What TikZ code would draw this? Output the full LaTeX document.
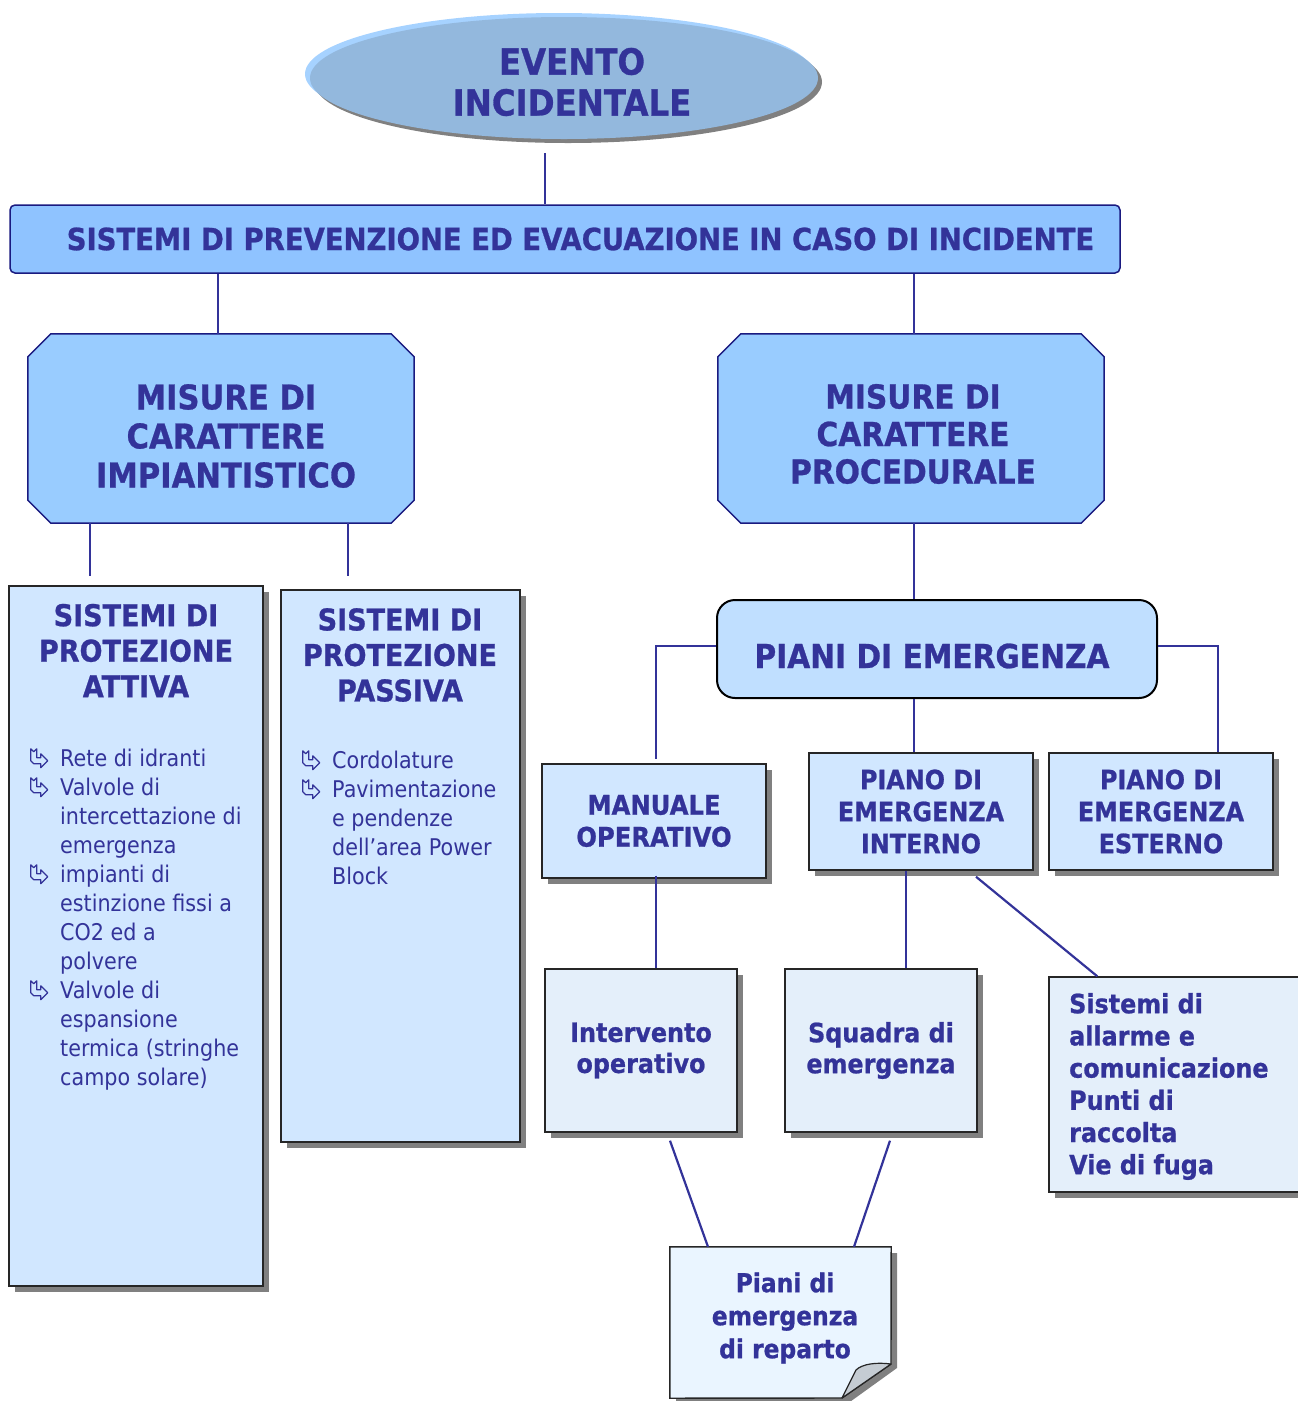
\documentclass[tikz,border=0pt]{standalone}
\usepackage{fontspec}
\setmainfont{DejaVu Sans}[FakeStretch=0.9, BoldFeatures={FakeStretch=0.9,FakeBold=0.8}]
\usetikzlibrary{shapes.geometric,shadows}
\definecolor{txt}{HTML}{333399}
\definecolor{navy}{HTML}{1A1A80}
\definecolor{evfill}{HTML}{93B8DD}
\definecolor{evrim}{HTML}{A6D2FF}
\definecolor{shg}{HTML}{808080}
\definecolor{banfill}{HTML}{8FC3FF}
\definecolor{octfill}{HTML}{99CCFF}
\definecolor{sysfill}{HTML}{D1E7FF}
\definecolor{pefill}{HTML}{C0DFFF}
\definecolor{lowfill}{HTML}{E4EFFA}
\definecolor{repfill}{HTML}{EAF5FF}
\definecolor{foldfill}{HTML}{C5CCD3}
\newcommand\fsz[2]{\fontsize{#1}{#2}\selectfont\bfseries}
\newcommand\lbul{\makebox[30pt][l]{\tikz[x=1pt,y=1pt,baseline=0pt]\draw[draw=txt,line width=1.1pt,line join=round] (0,18)--(3,15)--(6,18)--(6,9)--(10,9)--(10,13)--(17,6)--(10,-1)--(10,3)--(3,3)--(0,6)--cycle;}}
\newcommand\lind{\makebox[30pt]{}}
\begin{document}
\begin{tikzpicture}[x=1pt,y=-1pt,
  every node/.style={text=txt, inner sep=0pt},
  conn/.style={draw=txt, line width=2.2pt},
  bshadow/.style={drop shadow={shadow xshift=6pt,shadow yshift=-6pt,fill=shg,opacity=1}},
  box/.style={draw=black!85, line width=1.4pt, bshadow},
  oct/.style={draw=navy, line width=1.5pt, fill=octfill},
  lst/.style={font=\fontsize{23}{29}\selectfont, align=left, anchor=north west}]
\clip (0,0) rectangle (1298,1401);

% top ellipse
\node[ellipse, minimum width=508pt, minimum height=122pt, fill=evfill,
  drop shadow={shadow xshift=-5pt,shadow yshift=4pt,fill=evrim,opacity=1},
  drop shadow={shadow xshift=4pt,shadow yshift=-4pt,fill=shg,opacity=1}] (ev) at (564,78) {};
\node[font=\fsz{36}{41}, align=center] (evt) at (572,82) {EVENTO\\INCIDENTALE};

% banner
\node[draw=navy, line width=1.5pt, fill=banfill, rounded corners=5pt, minimum width=1110pt, minimum height=68pt, font=\fsz{30.5}{36}] (ban) at (565,239) {\hspace*{31pt}SISTEMI DI PREVENZIONE ED EVACUAZIONE IN CASO DI INCIDENTE};
\coordinate (evc) at ([xshift=-19pt,yshift=-14pt]ev.south);
\draw[conn] (evc) -- (evc |- ban.north);

% octagons
\node[minimum width=386pt, minimum height=189pt] (misL) at (221,428.5) {};
\node[minimum width=386pt, minimum height=189pt] (misR) at (911,428.5) {};
\foreach \m in {misL,misR}{
\draw[oct] ([xshift=23pt]\m.north west) -- ([xshift=-23pt]\m.north east) -- ([yshift=-23pt]\m.north east) -- ([yshift=23pt]\m.south east) -- ([xshift=-23pt]\m.south east) -- ([xshift=23pt]\m.south west) -- ([yshift=23pt]\m.south west) -- ([yshift=-23pt]\m.north west) -- cycle;}
\node[font=\fsz{34}{39}, align=center] (misLt) at (226,436) {MISURE DI\\CARATTERE\\IMPIANTISTICO};
\node[font=\fsz{33}{37.5}, align=center] (misRt) at (913,434) {MISURE DI\\CARATTERE\\PROCEDURALE};
\draw[conn] ([xshift=-3pt]misL.north |- ban.south) -- ([xshift=-3pt]misL.north);
\draw[conn] ([xshift=3pt]misR.north |- ban.south) -- ([xshift=3pt]misR.north);

% sistemi boxes
\node[box, fill=sysfill, minimum width=254pt, minimum height=700pt] (att) at (136,936) {};
\node[box, fill=sysfill, minimum width=239pt, minimum height=552pt] (pas) at (400.5,866) {};
\node[font=\fsz{30}{35.5}, align=center] (attt) at (136,650.5) {SISTEMI DI\\PROTEZIONE\\ATTIVA};
\node[font=\fsz{30}{35.5}, align=center] (past) at (400,655) {SISTEMI DI\\PROTEZIONE\\PASSIVA};
\node[lst] (attl) at (30,748) {\lbul Rete di idranti\\
\lbul Valvole di\\
\lind intercettazione di\\
\lind emergenza\\
\lbul impianti di\\
\lind estinzione fissi a\\
\lind CO2 ed a\\
\lind polvere\\
\lbul Valvole di\\
\lind espansione\\
\lind termica (stringhe\\
\lind campo solare)};
\node[lst] (pasl) at (302,750) {\lbul Cordolature\\
\lbul Pavimentazione\\
\lind e pendenze\\
\lind dell’area Power\\
\lind Block};
\coordinate (la) at ([xshift=-131pt]misL.south);
\coordinate (lb) at ([xshift=127pt]misL.south);
\draw[conn, shorten >=9pt] (la) -- (la |- att.north);
\draw[conn, shorten >=13pt] (lb) -- (lb |- pas.north);

% piani di emergenza
\node[draw=black, line width=2pt, fill=pefill, rounded corners=18pt, minimum width=440pt, minimum height=98pt] (pe) at (937,649) {};
\node[font=\fsz{33}{39}] (pet) at (932,656) {PIANI DI EMERGENZA};
\draw[conn] ([xshift=3pt]misR.south) -- ([xshift=3pt]misR.south |- pe.north);

% second row
\node[box, fill=sysfill, minimum width=224pt, minimum height=114pt, font=\fsz{27}{32}, align=center] (man) at (654,821) {MANUALE\\OPERATIVO};
\node[box, fill=sysfill, minimum width=224pt, minimum height=117pt, font=\fsz{26.5}{32}, align=center] (int) at (921,811.5) {PIANO DI\\EMERGENZA\\INTERNO};
\node[box, fill=sysfill, minimum width=224pt, minimum height=117pt, font=\fsz{26.5}{32}, align=center] (est) at (1161,811.5) {PIANO DI\\EMERGENZA\\ESTERNO};
\draw[conn] ([yshift=3pt]pe.west) -| ([xshift=2pt,yshift=4pt]man.north);
\draw[conn] ([yshift=3pt]pe.east) -| ([xshift=57pt]est.north);
\draw[conn] ([xshift=-23pt]pe.south) -- ([xshift=-23pt]pe.south |- int.north);

% third row
\node[box, fill=lowfill, minimum width=192pt, minimum height=163pt, font=\fsz{26.5}{31}, align=center] (inv) at (641,1050.5) {Intervento\\operativo};
\node[box, fill=lowfill, minimum width=192pt, minimum height=163pt, font=\fsz{26.5}{31}, align=center] (squ) at (881,1050.5) {Squadra di\\emergenza};
\node[box, fill=lowfill, minimum width=261pt, minimum height=215pt] (all) at (1179.5,1084.5) {};
\node[font=\fsz{26.5}{32.2}, align=left, anchor=west] (allt) at (1069,1086.5) {Sistemi di\\allarme e\\comunicazione\\Punti di\\raccolta\\Vie di fuga};
\draw[conn] ([xshift=2pt,yshift=3pt]man.south) -- ([xshift=2pt]man.south |- inv.north);
\draw[conn] ([xshift=-15pt]int.south) -- ([xshift=-15pt]int.south |- squ.north);
\draw[conn] ([xshift=55pt,yshift=-6pt]int.south) -- ([xshift=49pt]all.north west);

% piani di reparto (folded note)
\node[minimum width=221pt, minimum height=151pt] (rep) at (780.5,1322.5) {};
\fill[shg] (676,1253) -- (897,1253) -- (897,1368) -- (847,1404) -- (676,1404) -- cycle;
\draw[draw=black!85, line width=1.4pt, fill=repfill] (rep.north west) -- (rep.north east) -- (891,1364) -- (842,1398) -- (rep.south west) -- cycle;
\draw[draw=black!85, line width=1.2pt, fill=foldfill, line join=round] (891,1364) .. controls (876,1362) and (862,1364) .. (856,1370) .. controls (851,1380) and (846,1390) .. (842,1398) -- cycle;
\node[font=\fsz{26}{33}, align=center] (rept) at (785,1318) {Piani di\\emergenza\\di reparto};
\draw[conn] ([xshift=29pt,yshift=-8pt]inv.south) -- ([xshift=-72.5pt]rep.north);
\draw[conn] ([xshift=9pt,yshift=-8pt]squ.south) -- ([xshift=73.5pt]rep.north);
\end{tikzpicture}
\end{document}
